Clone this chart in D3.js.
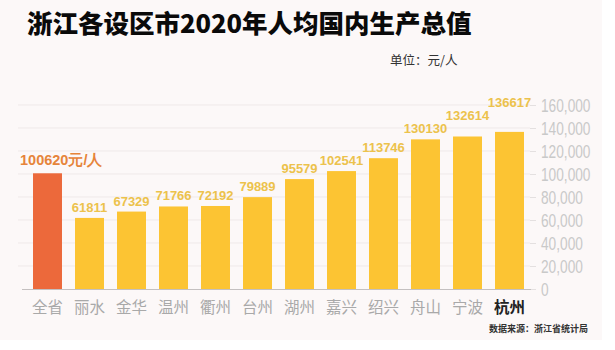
<!DOCTYPE html>
<html>
<head>
<meta charset="utf-8">
<script src="https://cdn.jsdelivr.net/npm/d3@7"></script>
<style>
  html, body { margin: 0; padding: 0; background: #ffffff; }
  svg { display: block; }
</style>
</head>
<body>
<svg id="chart" width="615" height="350"></svg>
<script>
// 浙江各设区市 2020 年人均 GDP（元/人）
const cities = ["全省", "丽水", "金华", "温州", "衢州", "台州", "湖州", "嘉兴", "绍兴", "舟山", "宁波", "杭州"];
const gdpPerCapita = [100620, 61811, 67329, 71766, 72192, 79889, 95579, 102541, 113746, 130130, 132614, 136617];
const yTicks = [0, 20000, 40000, 60000, 80000, 100000, 120000, 140000, 160000];

const titleText = "浙江各设区市2020年人均国内生产总值";
const unitText = "单位：元/人";
const sourceText = "数据来源：浙江省统计局";
const provinceSuffix = "元/人";

const svg = d3.select("#chart");
const cjk = "'Noto Sans CJK SC', 'Noto Sans', sans-serif";
const num = "'Liberation Sans', Arial, 'Noto Sans', sans-serif";

// page background
svg.append("rect").attr("x", 0).attr("y", 0).attr("width", 602).attr("height", 340)
  .attr("fill", "#fcf8f8");

const x = d3.scaleBand().domain(cities).range([26.5, 530.5]).paddingInner(0.31).paddingOuter(0.155);
const y = d3.scaleLinear().domain([0, 160000]).range([289, 105]);

// horizontal grid
svg.append("g").selectAll("line").data(yTicks.slice(1)).join("line")
  .attr("x1", 18).attr("x2", 530)
  .attr("y1", d => y(d)).attr("y2", d => y(d))
  .attr("stroke", "#efe9e9").attr("stroke-width", 1);

// right-hand value axis
const yAxis = svg.append("g").attr("transform", "translate(530,0)")
  .call(d3.axisRight(y).tickValues(yTicks).tickFormat(d3.format(",")).tickSize(6).tickPadding(5));
yAxis.select(".domain").remove();
yAxis.selectAll(".tick line").attr("stroke", "#e4e0e0");
yAxis.selectAll(".tick text")
  .attr("fill", "#c9c9c9")
  .style("font-family", num)
  .style("font-size", "19px")
  .attr("dy", "0.36em")
  .each(function () {
    const w = this.getComputedTextLength();
    d3.select(this).attr("textLength", w * 0.72).attr("lengthAdjust", "spacingAndGlyphs");
  });

// bars
svg.append("g").selectAll("rect").data(cities).join("rect")
  .attr("x", d => x(d))
  .attr("y", (d, i) => y(gdpPerCapita[i]))
  .attr("width", x.bandwidth())
  .attr("height", (d, i) => y(0) - y(gdpPerCapita[i]))
  .attr("fill", (d, i) => i === 0 ? "#ec693b" : "#fcc433");

// baseline
svg.append("line").attr("x1", 22).attr("x2", 531).attr("y1", 289.5).attr("y2", 289.5)
  .attr("stroke", "#c4c0c0").attr("stroke-width", 1.2);

// value labels: lift a label when it would collide with its left neighbour
const labelG = svg.append("g");
let prev = null;
gdpPerCapita.forEach((v, i) => {
  if (i === 0) {
    labelG.append("text")
      .attr("x", 20).attr("y", y(v) - 8)
      .attr("fill", "#e6843a")
      .style("font-family", num).style("font-weight", "bold").style("font-size", "14.5px")
      .text(v + provinceSuffix);
    return;
  }
  const cx = x(cities[i]) + x.bandwidth() / 2;
  const t = labelG.append("text")
    .attr("x", cx).attr("text-anchor", "middle")
    .attr("fill", "#ecc24c")
    .style("font-family", num).style("font-weight", "bold").style("font-size", "13px")
    .text(v);
  const w = t.node().getComputedTextLength();
  let ly = y(v) - 6;
  if (prev && (prev.cx + prev.w / 2) > (cx - w / 2) && prev.y - ly < 13) ly = prev.y - 13;
  t.attr("y", ly);
  prev = { cx, w, y: ly };
});

// category labels
svg.append("g").selectAll("text").data(cities).join("text")
  .attr("x", d => x(d) + x.bandwidth() / 2)
  .attr("y", 313)
  .attr("text-anchor", "middle")
  .attr("fill", (d, i) => i === cities.length - 1 ? "#222222" : "#a9a9a9")
  .style("font-family", cjk)
  .style("font-weight", (d, i) => i === cities.length - 1 ? "bold" : "normal")
  .style("font-size", "15.5px")
  .text(d => d);

// title, unit, source
svg.append("text").attr("x", 27).attr("y", 33)
  .attr("fill", "#0a0a0a")
  .style("font-family", cjk).style("font-weight", "900").style("font-size", "25.5px")
  .text(titleText);

svg.append("text").attr("x", 390).attr("y", 65)
  .attr("fill", "#333333")
  .style("font-family", cjk).style("font-size", "12.5px")
  .text(unitText);

svg.append("text").attr("x", 588).attr("y", 332).attr("text-anchor", "end")
  .attr("fill", "#333333")
  .style("font-family", cjk).style("font-weight", "bold").style("font-size", "9px")
  .text(sourceText);
</script>
</body>
</html>
